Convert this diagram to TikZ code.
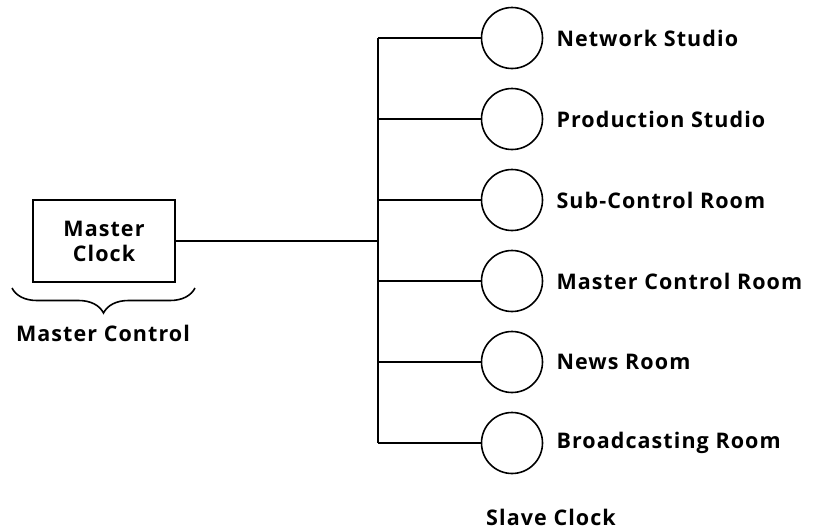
\documentclass[tikz,border=0pt]{standalone}
\usepackage{fontspec}
\setmainfont[LetterSpace=5]{Open Sans}
\usetikzlibrary{positioning,decorations.pathreplacing}

\begin{document}
\begin{tikzpicture}[
  x=1pt, y=-1pt,
  lbl/.style={font=\fontsize{21.5}{24}\selectfont\bfseries, inner sep=0pt},
  clockbox/.style={draw, line width=1.6pt, minimum width=142pt, minimum height=82pt, align=center, lbl},
  slave/.style={draw, circle, line width=1.6pt, minimum size=61pt, inner sep=0pt},
  wire/.style={line width=1.2pt},
]
  \useasboundingbox (0,0) rectangle (819,531);
  \node[clockbox] (master) at (104,241) {Master\\[1pt]Clock};
  % slave clocks
  \foreach \i/\name in {1/Network Studio, 2/Production Studio, 3/Sub-Control Room,
      4/Master Control Room, 5/News Room, 6/Broadcasting Room} {
    \node[slave] (c\i) at (512,{38+81*(\i-1)}) {};
    \node[lbl, anchor=west, right=13pt of c\i] (t\i) {\name};
  }
  \coordinate (bustop) at (378,38);
  \coordinate (busbot) at (378,443);
  \draw[line width=2.2pt] (bustop) -- (busbot);
  \foreach \i in {1,...,6}
    \draw[wire] (c\i.west) -- (c\i.west -| bustop);
  \draw[wire] (master.east) -- (master.east -| bustop);
  \draw[line width=1.6pt, decorate,
    decoration={brace, mirror, amplitude=25pt}]
    (12,288) coordinate (bl) -- (195,288) coordinate (br);
  \node[lbl] (mctl) at (103,333) {Master Control};
  \node[lbl] (slv) at (551,517) {Slave Clock};
\end{tikzpicture}
\end{document}
